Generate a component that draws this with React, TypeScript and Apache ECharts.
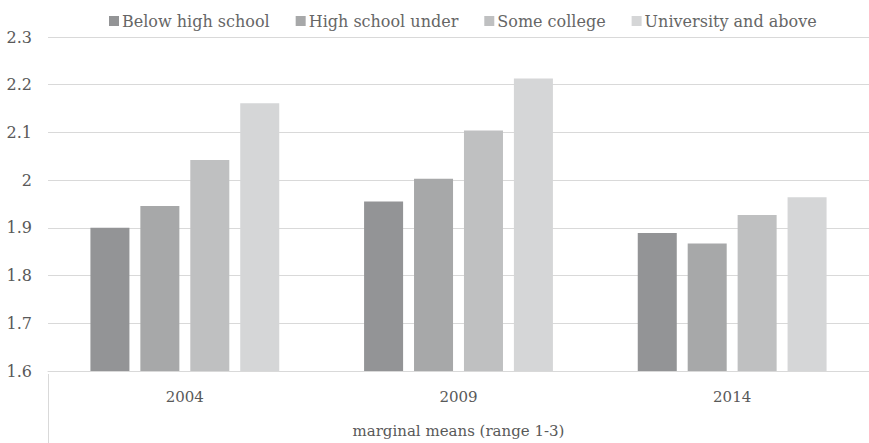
import React, { useEffect, useRef } from "react";
import * as echarts from "echarts";

const categories = ["2004", "2009", "2014"];
const seriesNames = ["Below high school", "High school under", "Some college", "University and above"];
const belowHighSchool = [1.9, 1.955, 1.889];
const highSchoolUnder = [1.946, 2.003, 1.867];
const someCollege = [2.042, 2.104, 1.927];
const universityAndAbove = [2.161, 2.213, 1.964];
const colors = ["#939496", "#a7a8a9", "#bfc0c1", "#d5d6d7"];
const yTicks = { min: 1.6, max: 2.3, interval: 0.1 };

export default function App() {
  const ref = useRef<HTMLDivElement>(null);
  useEffect(() => {
    if (!ref.current) return;
    const chart = echarts.init(ref.current, undefined, { renderer: "svg" });
    const values = [belowHighSchool, highSchoolUnder, someCollege, universityAndAbove];
    const font = "DejaVu Serif";
    chart.setOption({
      animation: false,
      textStyle: { fontFamily: font },
      color: colors,
      legend: {
        top: 8,
        left: 104,
        itemWidth: 10,
        itemHeight: 10,
        itemGap: 26,
        icon: "rect",
        textStyle: { fontFamily: font, fontSize: 16, color: "#666666", padding: [0, 0, 0, -2] },
        data: seriesNames,
      },
      grid: { left: 48, right: 0, top: 37, bottom: 69, containLabel: false },
      xAxis: {
        type: "category",
        data: categories,
        name: "marginal means (range 1-3)",
        nameLocation: "middle",
        nameGap: 52,
        nameTextStyle: { fontFamily: font, fontSize: 15, color: "#595959" },
        axisLine: { show: true, lineStyle: { color: "#d9d9d9", width: 1 } },
        axisTick: { show: false },
        axisLabel: { fontFamily: font, fontSize: 15, color: "#595959", margin: 18 },
      },
      yAxis: {
        type: "value",
        min: yTicks.min,
        max: yTicks.max,
        interval: yTicks.interval,
        axisLine: { show: false },
        axisTick: { show: false },
        splitLine: { lineStyle: { color: "#d9d9d9", width: 1 } },
        axisLabel: {
          fontFamily: font,
          fontSize: 16,
          color: "#595959",
          margin: 16,
          formatter: (v: number) => {
            const r = Math.round(v * 10) / 10;
            return r === 2 ? "2" : r.toFixed(1);
          },
        },
      },
      graphic: [
        {
          type: "line",
          shape: { x1: 48.5, y1: 374, x2: 48.5, y2: 443 },
          style: { stroke: "#d9d9d9", lineWidth: 1 },
        },
      ],
      series: seriesNames.map((name, i) => ({
        name,
        type: "bar",
        data: values[i],
        barGap: "28%",
        barCategoryGap: "31%",
        itemStyle: { color: colors[i] },
      })),
    });
    return () => chart.dispose();
  }, []);
  return <div ref={ref} style={{ width: 869, height: 443, position: "absolute", left: 0, top: 0 }} />;
}
